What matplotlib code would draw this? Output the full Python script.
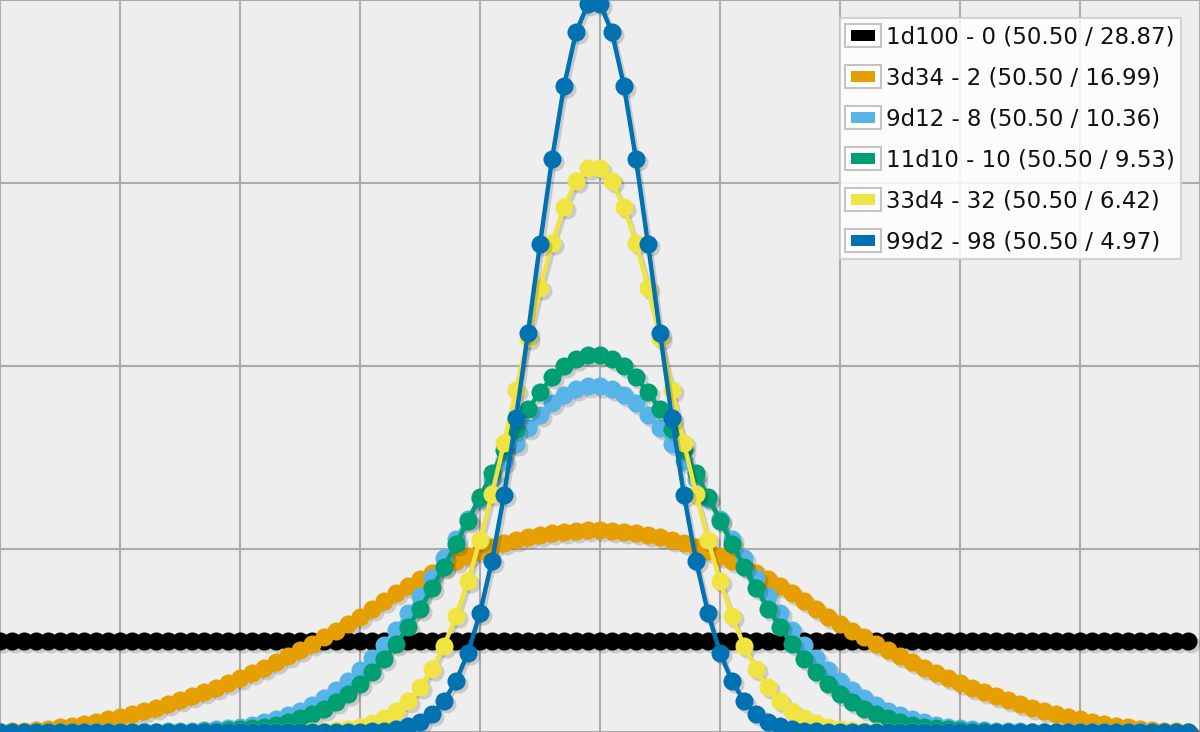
import matplotlib
matplotlib.use("Agg")
import matplotlib.pyplot as plt
from matplotlib.transforms import offset_copy
from matplotlib.patches import Rectangle, Patch
from matplotlib.legend_handler import HandlerBase

# ---------------- data ----------------
x_values = list(range(1, 101))

labels = [
    "1d100 - 0 (50.50 / 28.87)",
    "3d34 - 2 (50.50 / 16.99)",
    "9d12 - 8 (50.50 / 10.36)",
    "11d10 - 10 (50.50 / 9.53)",
    "33d4 - 32 (50.50 / 6.42)",
    "99d2 - 98 (50.50 / 4.97)",
]

d1d100 = [
    0.01, 0.01, 0.01, 0.01, 0.01, 0.01, 0.01, 0.01, 0.01, 0.01,
    0.01, 0.01, 0.01, 0.01, 0.01, 0.01, 0.01, 0.01, 0.01, 0.01,
    0.01, 0.01, 0.01, 0.01, 0.01, 0.01, 0.01, 0.01, 0.01, 0.01,
    0.01, 0.01, 0.01, 0.01, 0.01, 0.01, 0.01, 0.01, 0.01, 0.01,
    0.01, 0.01, 0.01, 0.01, 0.01, 0.01, 0.01, 0.01, 0.01, 0.01,
    0.01, 0.01, 0.01, 0.01, 0.01, 0.01, 0.01, 0.01, 0.01, 0.01,
    0.01, 0.01, 0.01, 0.01, 0.01, 0.01, 0.01, 0.01, 0.01, 0.01,
    0.01, 0.01, 0.01, 0.01, 0.01, 0.01, 0.01, 0.01, 0.01, 0.01,
    0.01, 0.01, 0.01, 0.01, 0.01, 0.01, 0.01, 0.01, 0.01, 0.01,
    0.01, 0.01, 0.01, 0.01, 0.01, 0.01, 0.01, 0.01, 0.01, 0.01,
]

d3d34 = [
    0.00003, 0.00008, 0.00015, 0.00025, 0.00038, 0.00053, 0.00071, 0.00092, 0.00114, 0.00140,
    0.00168, 0.00198, 0.00232, 0.00267, 0.00305, 0.00346, 0.00389, 0.00435, 0.00483, 0.00534,
    0.00588, 0.00644, 0.00702, 0.00763, 0.00827, 0.00893, 0.00962, 0.01033, 0.01107, 0.01183,
    0.01262, 0.01343, 0.01427, 0.01514, 0.01595, 0.01672, 0.01743, 0.01809, 0.01870, 0.01926,
    0.01977, 0.02023, 0.02063, 0.02099, 0.02130, 0.02155, 0.02175, 0.02191, 0.02201, 0.02206,
    0.02206, 0.02201, 0.02191, 0.02175, 0.02155, 0.02130, 0.02099, 0.02063, 0.02023, 0.01977,
    0.01926, 0.01870, 0.01809, 0.01743, 0.01672, 0.01595, 0.01514, 0.01427, 0.01343, 0.01262,
    0.01183, 0.01107, 0.01033, 0.00962, 0.00893, 0.00827, 0.00763, 0.00702, 0.00644, 0.00588,
    0.00534, 0.00483, 0.00435, 0.00389, 0.00346, 0.00305, 0.00267, 0.00232, 0.00198, 0.00168,
    0.00140, 0.00114, 0.00092, 0.00071, 0.00053, 0.00038, 0.00025, 0.00015, 0.00008, 0.00003,
]

d9d12 = [
    0.0, 0.0, 0.0, 0.0, 0.0000001, 0.0000003, 0.0000006, 0.0000013, 0.0000025, 0.0000047,
    0.0000085, 0.0000147, 0.0000244, 0.0000394, 0.0000619, 0.0000947, 0.0001417, 0.0002074, 0.0002975, 0.0004190,
    0.0005799, 0.0007895, 0.0010580, 0.0013970, 0.0018190, 0.0023360, 0.0029580, 0.0036990, 0.0045730, 0.0055880,
    0.006754, 0.008075, 0.009551, 0.011180, 0.012953, 0.014856, 0.016871, 0.018973, 0.021132, 0.023315,
    0.025484, 0.027598, 0.029616, 0.031495, 0.033194, 0.034677, 0.035908, 0.036858, 0.037504, 0.037831,
    0.037831, 0.037504, 0.036858, 0.035908, 0.034677, 0.033194, 0.031495, 0.029616, 0.027598, 0.025484,
    0.023315, 0.021132, 0.018973, 0.016871, 0.014856, 0.012953, 0.011180, 0.009551, 0.008075, 0.006754,
    0.0055880, 0.0045730, 0.0036990, 0.0029580, 0.0023360, 0.0018190, 0.0013970, 0.0010580, 0.0007895, 0.0005799,
    0.0004190, 0.0002975, 0.0002074, 0.0001417, 0.0000947, 0.0000619, 0.0000394, 0.0000244, 0.0000147, 0.0000085,
    0.0000047, 0.0000025, 0.0000013, 0.0000006, 0.0000003, 0.0000001, 0.0, 0.0, 0.0, 0.0,
]

d11d10 = [
    0.0, 0.0, 0.0, 0.0, 0.0, 0.0, 0.0000001, 0.0000002, 0.0000004, 0.0000009,
    0.0000018, 0.0000035, 0.0000065, 0.0000114, 0.0000195, 0.0000324, 0.0000522, 0.0000822, 0.0001264, 0.0001901,
    0.0002801, 0.0004047, 0.0005740, 0.0007999, 0.0010961, 0.0014779, 0.001965, 0.002566, 0.003305, 0.004198,
    0.005263, 0.006513, 0.007959, 0.009604, 0.011450, 0.013486, 0.015700, 0.018064, 0.020548, 0.023111,
    0.025704, 0.028275, 0.030766, 0.033116, 0.035267, 0.037160, 0.038744, 0.039974, 0.040815, 0.041242,
    0.041242, 0.040815, 0.039974, 0.038744, 0.037160, 0.035267, 0.033116, 0.030766, 0.028275, 0.025704,
    0.023111, 0.020548, 0.018064, 0.015700, 0.013486, 0.011450, 0.009604, 0.007959, 0.006513, 0.005263,
    0.004198, 0.003305, 0.002566, 0.001965, 0.0014779, 0.0010961, 0.0007999, 0.0005740, 0.0004047, 0.0002801,
    0.0001901, 0.0001264, 0.0000822, 0.0000522, 0.0000324, 0.0000195, 0.0000114, 0.0000065, 0.0000035, 0.0000018,
    0.0000009, 0.0000004, 0.0000002, 0.0000001, 0.0, 0.0, 0.0, 0.0, 0.0, 0.0,
]

d33d4 = [
    0.0, 0.0, 0.0, 0.0, 0.0, 0.0, 0.0, 0.0, 0.0, 0.0,
    0.0, 0.0, 0.0, 0.0, 0.0, 0.0, 0.0, 0.0, 0.0, 0.0,
    0.000001, 0.000002, 0.000004, 0.000008, 0.000017, 0.000034, 0.000063, 0.000116, 0.000205, 0.000351,
    0.000584, 0.000944, 0.001482, 0.002264, 0.003365, 0.004871, 0.006867, 0.009433, 0.012631, 0.016489,
    0.020993, 0.026007, 0.031590, 0.037355, 0.043112, 0.048571, 0.053424, 0.057374, 0.060166, 0.061612,
    0.061612, 0.060166, 0.057374, 0.053424, 0.048571, 0.043112, 0.037355, 0.031590, 0.026007, 0.020993,
    0.016489, 0.012631, 0.009433, 0.006867, 0.004871, 0.003365, 0.002264, 0.001482, 0.000944, 0.000584,
    0.000351, 0.000205, 0.000116, 0.000063, 0.000034, 0.000017, 0.000008, 0.000004, 0.000002, 0.000001,
    0.0, 0.0, 0.0, 0.0, 0.0, 0.0, 0.0, 0.0, 0.0, 0.0,
    0.0, 0.0, 0.0, 0.0, 0.0, 0.0, 0.0, 0.0, 0.0, 0.0,
]

d99d2 = [
    0.0, 0.0, 0.0, 0.0, 0.0, 0.0, 0.0, 0.0, 0.0, 0.0,
    0.0, 0.0, 0.0, 0.0, 0.0, 0.0, 0.0, 0.0, 0.0, 0.0,
    0.0, 0.0, 0.0, 0.0, 0.0, 0.0000003, 0.0000008, 0.0000022, 0.0000057, 0.0000140,
    0.0000326, 0.0000725, 0.000154, 0.000312, 0.000605, 0.001123, 0.001996, 0.003399, 0.005546, 0.008675,
    0.013013, 0.018726, 0.025859, 0.034278, 0.043627, 0.053322, 0.062595, 0.070586, 0.076468, 0.079589,
    0.079589, 0.076468, 0.070586, 0.062595, 0.053322, 0.043627, 0.034278, 0.025859, 0.018726, 0.013013,
    0.008675, 0.005546, 0.003399, 0.001996, 0.001123, 0.000605, 0.000312, 0.000154, 0.0000725, 0.0000326,
    0.0000140, 0.0000057, 0.0000022, 0.0000008, 0.0000003, 0.0, 0.0, 0.0, 0.0, 0.0,
    0.0, 0.0, 0.0, 0.0, 0.0, 0.0, 0.0, 0.0, 0.0, 0.0,
    0.0, 0.0, 0.0, 0.0, 0.0, 0.0, 0.0, 0.0, 0.0, 0.0,
]

series = [d1d100, d3d34, d9d12, d11d10, d33d4, d99d2]
colors = ["#000000", "#E69F00", "#56B4E9", "#009E73", "#F0E442", "#0072B2"]

x_grid = [1, 11, 21, 31, 41, 51, 61, 71, 81, 91, 101]
y_grid = [0.0, 0.02, 0.04, 0.06, 0.08]

# ---------------- figure ----------------
fig = plt.figure(figsize=(12, 7.32), dpi=100)
ax = fig.add_axes([0, 0, 1, 1])
ax.set_facecolor("#eeeeee")
ax.set_xlim(1, 100.83)
ax.set_ylim(0, 0.08)
ax.set_xticks(x_grid)
ax.set_yticks(y_grid)
ax.grid(True, color="#ababab", linewidth=1.5)
ax.set_axisbelow(True)
ax.tick_params(length=0, labelbottom=False, labelleft=False)
for s in ax.spines.values():
    s.set_visible(False)

shadow_tr = offset_copy(ax.transData, fig=fig, x=2.5, y=-3, units="dots")

for i, (vals, col) in enumerate(zip(series, colors)):
    ax.plot(x_values, vals, color=(0, 0, 0, 0.15), lw=3.2, marker="o", ms=13,
            mec="none", transform=shadow_tr, zorder=2 + 2 * i, clip_on=True)
    ax.plot(x_values, vals, color=col, lw=3.2, marker="o", ms=13,
            mec="none", zorder=3 + 2 * i, clip_on=True)


class SwatchHandler(HandlerBase):
    def create_artists(self, legend, orig_handle, xdescent, ydescent,
                       width, height, fontsize, trans):
        outer = Rectangle((-xdescent, -ydescent), width, height,
                          facecolor="white", edgecolor="#c4c4c4", lw=1.5,
                          transform=trans)
        pad = 4.3
        inner = Rectangle((-xdescent + pad, -ydescent + pad),
                          width - 2 * pad, height - 2 * pad,
                          facecolor=orig_handle.get_facecolor(),
                          edgecolor="none", transform=trans)
        return [outer, inner]


handles = [Patch(facecolor=c) for c in colors]
leg = ax.legend(handles, labels, loc="upper right",
                bbox_to_anchor=(1181 / 1200, 1 - 18 / 732),
                bbox_transform=fig.transFigure, borderaxespad=0,
                fontsize=16.5, frameon=True, fancybox=False,
                framealpha=0.85, edgecolor="#cccccc", facecolor="white",
                handlelength=1.57, handleheight=1.2, handletextpad=0.22,
                labelspacing=0.72, borderpad=0.25,
                handler_map={Patch: SwatchHandler()})
leg.get_frame().set_linewidth(1.5)
leg.set_zorder(20)
for t in leg.get_texts():
    t.set_color("#111111")

fig.savefig("out.png", dpi=100, facecolor="white")
